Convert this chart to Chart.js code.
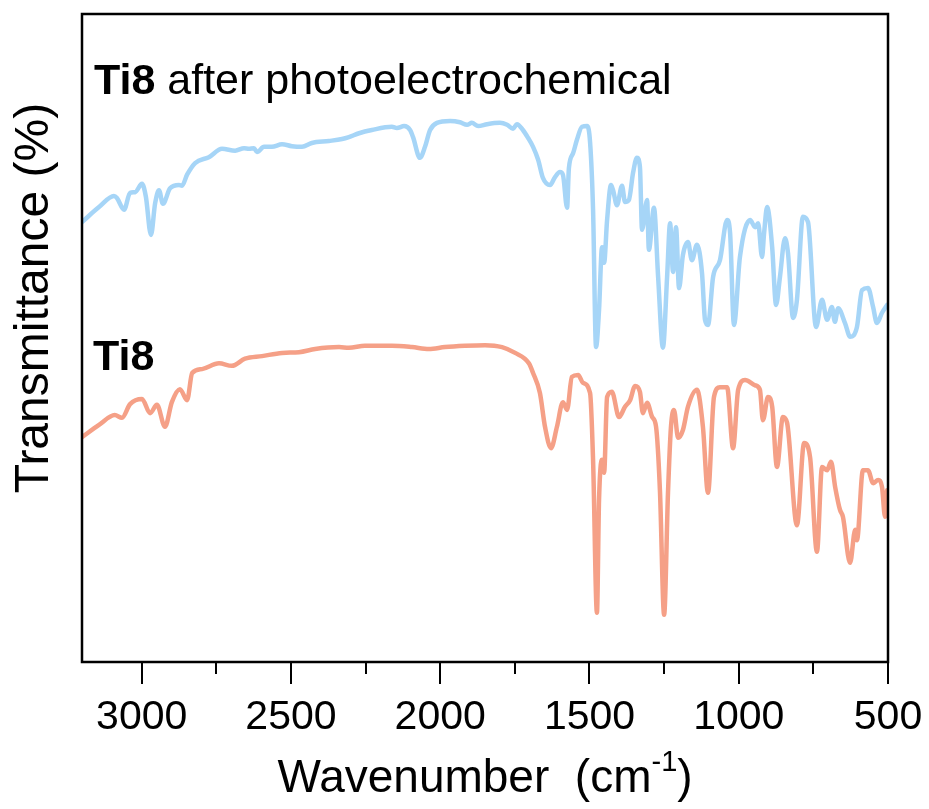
<!DOCTYPE html>
<html>
<head>
<meta charset="utf-8">
<script src="https://cdn.jsdelivr.net/npm/chart.js@4.4.1/dist/chart.umd.min.js"></script>
<style>
  html, body { margin: 0; padding: 0; background: #fff; }
</style>
</head>
<body>
<canvas id="ftir" width="929" height="809"></canvas>
<script>
// FTIR spectra, wavenumber in cm-1, transmittance in offset arbitrary units
const afterWn = [
  3200, 3143, 3093, 3083, 3059, 3039, 3022, 2999, 2986, 2969,
  2955, 2942, 2929, 2905, 2875, 2865, 2848, 2821, 2775, 2731,
  2687, 2657, 2641, 2624, 2614, 2590, 2564, 2530, 2497, 2463,
  2430, 2373, 2329, 2306, 2272, 2229, 2162, 2145, 2121, 2101,
  2091, 2068, 2051, 2034, 2011, 1967, 1934, 1910, 1894, 1873,
  1843, 1800, 1776, 1756, 1743, 1723, 1706, 1689, 1672, 1656,
  1632, 1616, 1599, 1589, 1575, 1569, 1555, 1542, 1525, 1508,
  1498, 1488, 1478, 1468, 1458, 1451, 1441, 1428, 1421, 1408,
  1391, 1381, 1368, 1354, 1341, 1331, 1324, 1307, 1301, 1284,
  1270, 1254, 1240, 1230, 1220, 1210, 1200, 1187, 1170, 1157,
  1140, 1123, 1113, 1103, 1086, 1063, 1039, 1029, 1016, 996,
  962, 945, 935, 922, 915, 905, 888, 875, 862, 845,
  835, 818, 805, 785, 768, 741, 721, 704, 688, 678,
  667, 644, 627, 604, 587, 567, 550, 537, 520, 503
];
const afterT = [
  67.9, 70.2, 71.9, 71.6, 69.8, 72.4, 72.5, 73.8, 71.8, 65.9,
  70.8, 72.8, 70.7, 73.1, 73.6, 73.5, 75.2, 77.0, 77.9, 79.2,
  78.9, 79.3, 79.2, 79.3, 78.7, 79.5, 79.5, 79.9, 79.6, 79.5,
  80.1, 80.4, 80.7, 81.0, 81.6, 82.1, 82.6, 82.4, 82.7, 82.1,
  81.0, 77.8, 79.5, 82.1, 83.2, 83.5, 83.3, 82.9, 83.2, 82.7,
  83.0, 83.2, 82.9, 82.3, 83.0, 82.1, 80.9, 79.5, 77.5, 74.7,
  73.6, 74.8, 75.6, 75.2, 70.1, 76.2, 78.5, 80.6, 82.6, 82.7,
  80.2, 69.8, 48.6, 54.3, 64.0, 61.6, 68.2, 73.6, 72.8, 70.5,
  73.5, 71.0, 71.3, 75.5, 77.8, 76.4, 66.7, 71.3, 63.6, 70.1,
  59.4, 48.5, 59.4, 67.7, 60.2, 67.1, 57.7, 62.8, 64.8, 62.0,
  64.4, 60.0, 52.8, 52.0, 59.4, 62.0, 68.2, 66.2, 52.0, 62.5,
  68.2, 67.1, 67.7, 62.5, 66.2, 70.2, 64.0, 55.1, 59.4, 65.4,
  63.1, 53.1, 55.9, 68.7, 67.9, 51.7, 55.9, 52.8, 54.8, 52.5,
  54.6, 52.3, 50.2, 51.7, 57.4, 57.7, 54.8, 52.3, 53.9, 55.1
];
const ti8Wn = [
  3200, 3143, 3090, 3066, 3039, 2999, 2972, 2949, 2922, 2899,
  2872, 2848, 2831, 2798, 2741, 2698, 2654, 2597, 2530, 2473,
  2419, 2339, 2306, 2252, 2162, 2095, 2038, 1984, 1917, 1850,
  1793, 1749, 1703, 1689, 1666, 1649, 1629, 1609, 1589, 1575,
  1559, 1538, 1522, 1498, 1488, 1475, 1468, 1458, 1451, 1441,
  1425, 1401, 1381, 1364, 1347, 1331, 1321, 1307, 1290, 1277,
  1264, 1250, 1237, 1227, 1217, 1203, 1187, 1170, 1140, 1120,
  1103, 1083, 1063, 1039, 1019, 1002, 979, 945, 929, 919,
  902, 888, 872, 852, 838, 805, 781, 761, 738, 721,
  704, 691, 677, 661, 651, 627, 610, 604, 584, 567,
  550, 533, 520, 510, 503
];
const ti8T = [
  34.7, 36.6, 38.1, 37.7, 39.8, 40.6, 38.4, 39.7, 36.3, 40.1,
  42.1, 40.4, 44.6, 45.2, 46.1, 45.7, 46.8, 47.2, 47.7, 47.8,
  48.3, 48.6, 48.5, 48.8, 48.8, 48.6, 48.3, 48.6, 48.8, 48.9,
  48.6, 47.7, 46.1, 44.6, 41.5, 36.3, 33.0, 36.3, 40.1, 38.9,
  44.0, 44.3, 43.1, 41.5, 31.2, 7.6, 25.0, 31.2, 29.2, 40.9,
  41.7, 37.8, 39.4, 40.4, 42.6, 41.7, 38.4, 40.0, 37.8, 36.3,
  26.5, 7.3, 26.1, 36.3, 38.9, 34.6, 35.8, 39.4, 42.0, 36.3,
  26.1, 40.9, 42.4, 42.4, 33.0, 42.0, 43.5, 42.7, 42.0, 37.3,
  40.9, 39.4, 30.1, 37.8, 36.9, 21.1, 33.8, 31.6, 17.0, 30.1,
  29.6, 30.9, 27.0, 23.5, 22.4, 15.3, 20.4, 18.8, 29.6, 29.6,
  27.6, 28.1, 27.0, 22.4, 26.5
];
const majorTicks = [3000, 2500, 2000, 1500, 1000, 500];
const minorTicks = [2750, 2250, 1750, 1250, 750];

const FONT = '"Liberation Sans", Arial, sans-serif';
const toPoints = (xs, ys) => xs.map((x, i) => ({ x: x, y: ys[i] }));

const decor = {
  id: 'decor',
  afterDraw(chart) {
    const { ctx, chartArea: a, scales: { x } } = chart;
    ctx.save();
    ctx.strokeStyle = '#000';
    ctx.lineWidth = 2.5;
    ctx.strokeRect(a.left, a.top, a.right - a.left, a.bottom - a.top);
    ctx.lineWidth = 2;
    const tick = (v, len) => {
      const px = Math.round(x.getPixelForValue(v));
      ctx.beginPath();
      ctx.moveTo(px, a.bottom);
      ctx.lineTo(px, a.bottom + len);
      ctx.stroke();
    };
    majorTicks.forEach(v => tick(v, 22));
    minorTicks.forEach(v => tick(v, 12));

    ctx.fillStyle = '#000';
    ctx.textBaseline = 'alphabetic';
    ctx.textAlign = 'left';
    // series labels
    ctx.font = 'bold 43px ' + FONT;
    ctx.fillText('Ti8', a.left + 12, 94);
    const w = ctx.measureText('Ti8').width;
    ctx.font = '43px ' + FONT;
    ctx.fillText(' after photoelectrochemical', a.left + 12 + w, 94);
    ctx.font = 'bold 43px ' + FONT;
    ctx.fillText('Ti8', a.left + 11, 370);

    // x title with superscript
    const main = 'Wavenumber  (cm', sup = '-1', close = ')';
    ctx.font = '46px ' + FONT;
    const w1 = ctx.measureText(main).width;
    const w3 = ctx.measureText(close).width;
    ctx.font = '29px ' + FONT;
    const w2 = ctx.measureText(sup).width;
    const sx = (a.left + a.right) / 2 - (w1 + w2 + w3) / 2;
    ctx.font = '46px ' + FONT;
    ctx.fillText(main, sx, 792);
    ctx.font = '29px ' + FONT;
    ctx.fillText(sup, sx + w1, 771);
    ctx.font = '46px ' + FONT;
    ctx.fillText(close, sx + w1 + w2, 792);

    // y title
    ctx.translate(35, 298);
    ctx.rotate(-Math.PI / 2);
    ctx.textAlign = 'center';
    ctx.textBaseline = 'middle';
    ctx.font = '48px ' + FONT;
    ctx.fillText('Transmittance (%)', 0, 0);
    ctx.restore();
  }
};

const lineStyle = {
  borderWidth: 4.5,
  pointRadius: 0,
  borderJoinStyle: 'round',
  borderCapStyle: 'round',
  cubicInterpolationMode: 'monotone'
};

new Chart(document.getElementById('ftir').getContext('2d'), {
  type: 'line',
  plugins: [decor],
  data: {
    datasets: [{
      ...lineStyle,
      label: 'Ti8 after photoelectrochemical',
      data: toPoints(afterWn, afterT),
      borderColor: 'rgb(166, 213, 247)'
    }, {
      ...lineStyle,
      label: 'Ti8',
      data: toPoints(ti8Wn, ti8T),
      borderColor: 'rgb(245, 160, 135)'
    }]
  },
  options: {
    responsive: false,
    animation: false,
    layout: { padding: { top: 14, right: 41, left: 0, bottom: 0 } },
    plugins: { legend: { display: false }, tooltip: { enabled: false } },
    scales: {
      x: {
        type: 'linear',
        reverse: true,
        min: 500,
        max: 3200,
        afterBuildTicks: s => { s.ticks = majorTicks.map(v => ({ value: v })); },
        afterFit: s => { s.height = 147; s.paddingLeft = 0; s.paddingRight = 0; },
        grid: { display: false, drawTicks: false },
        border: { display: false },
        ticks: {
          color: '#000',
          padding: 31,
          maxRotation: 0,
          font: { family: FONT, size: 41 },
          callback: v => String(v)
        }
      },
      y: {
        min: 0,
        max: 100,
        afterFit: s => { s.width = 82; },
        grid: { display: false, drawTicks: false },
        border: { display: false },
        ticks: { display: false }
      }
    }
  }
});
</script>
</body>
</html>
